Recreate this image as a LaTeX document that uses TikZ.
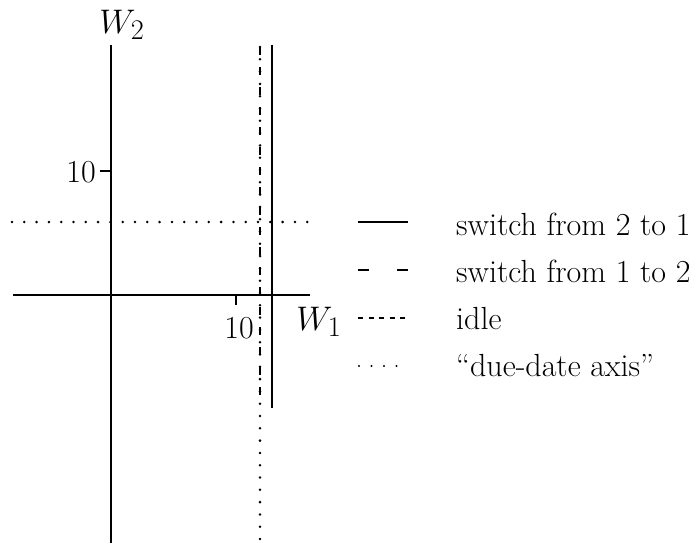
\documentclass[tikz,border=0pt]{standalone}
\newcommand{\bigmath}[1]{\scalebox{1.37}{\fontsize{24.88}{30}\selectfont$#1$}}
\begin{document}
\begin{tikzpicture}[x=1pt,y=-1pt,
  axis/.style={line width=1.6pt},
  tickline/.style={line width=1.4pt},
  solidsw/.style={line width=2.8pt},
  dashsw/.style={line width=2.6pt, dash pattern=on 8pt off 12pt},
  idleline/.style={line width=2.8pt, dash pattern=on 5pt off 5.5pt},
  dueaxis/.style={line width=2.8pt, line cap=round, dash pattern=on 0pt off 12.3pt},
  lbl/.style={inner sep=0pt, font=\fontsize{32}{38}\selectfont},
  mlbl/.style={inner sep=0pt},
  legtxt/.style={lbl, anchor=base west}]
\useasboundingbox (0,0) rectangle (698,543);
% axes
\coordinate (ytop) at (111,45);
\coordinate (ybot) at (111,543);
\coordinate (xl) at (13,295);
\coordinate (xr) at (310,295);
\draw[axis] (ybot) -- (ytop);
\draw[axis] (xl) -- (xr);
\node[mlbl] (w2) at (122,25) {\bigmath{W_2}};
\node[mlbl] (w1) at (319,322) {\bigmath{W_1}};
% ticks
\coordinate (yt1) at (111,171);
\coordinate (yt2) at (100,171);
\draw[tickline] (yt1) -- (yt2);
\node[lbl, anchor=east] (ten2) at (96,172) {10};
\coordinate (xt1) at (236,295);
\coordinate (xt2) at (236,305);
\draw[tickline] (xt1) -- (xt2);
\node[lbl] (ten1) at (239,328) {10};
% due-date axes
\coordinate (dh1) at (12,222);
\coordinate (dh2) at (312,222);
\draw[dueaxis] (dh1) -- (dh2);
\coordinate (dv1) at (260,47);
\coordinate (dv2) at (260,543);
\draw[dueaxis] (dv1) -- (dv2);
% switching curves
\coordinate (s12a) at (260,47);
\coordinate (s12b) at (260,398);
\draw[dashsw] (s12a) -- (s12b);
\coordinate (s21a) at (272,45);
\coordinate (s21b) at (272,408);
\draw[solidsw] (s21a) -- (s21b);
% legend
\coordinate (la1) at (358,222); \coordinate (lb1) at (408,222);
\draw[solidsw] (la1) -- (lb1);
\node[legtxt] (t1) at (456,235) {switch from 2 to 1};
\coordinate (la2) at (358,270); \coordinate (lb2) at (408,270);
\draw[line width=2.6pt, dash pattern=on 11pt off 28pt] (la2) -- (lb2);
\node[legtxt] (t2) at (456,282) {switch from 1 to 2};
\coordinate (la3) at (358,318); \coordinate (lb3) at (408,318);
\draw[idleline] (la3) -- (lb3);
\node[legtxt] (t3) at (456,329) {idle};
\coordinate (la4) at (359,366); \coordinate (lb4) at (409,366);
\draw[line width=2.2pt, line cap=round, dash pattern=on 0pt off 12.5pt] (la4) -- (lb4);
\node[legtxt] (t4) at (456,376) {``due-date axis''};
\end{tikzpicture}
\end{document}
